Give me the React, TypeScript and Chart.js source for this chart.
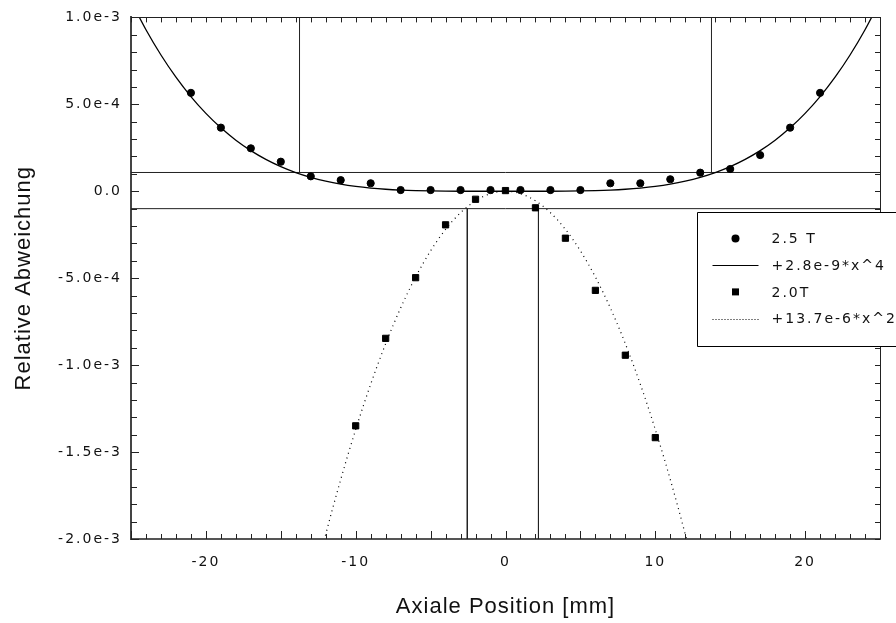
import React, { useEffect, useRef } from "react";
import { Chart, registerables } from "chart.js";

Chart.register(...registerables);

const FONT = '"Liberation Sans", Arial, Helvetica, sans-serif';
const SMALL_FONT = '"DejaVu Sans", "Liberation Sans", Arial, sans-serif';

// ---- axis ticks ----
const xTickValues = [-20, -10, 0, 10, 20];
const xTickLabels = ["-20", "-10", "0", "10", "20"];
const yTickValues = [-2.0e-3, -1.5e-3, -1.0e-3, -5.0e-4, 0, 5.0e-4, 1.0e-3];
const yTickLabels = ["-2.0e-3", "-1.5e-3", "-1.0e-3", "-5.0e-4", "0.0", "5.0e-4", "1.0e-3"];

// ---- measured series ----
const labels = ["2.5 T", "+2.8e-9*x^4", "2.0T", "+13.7e-6*x^2"];

const x25T = [-21, -19, -17, -15, -13, -11, -9, -7, -5, -3, -1, 1, 3, 5, 7, 9, 11, 13, 15, 17, 19, 21];
const y25T = [
  5.66e-4, 3.66e-4, 2.47e-4, 1.7e-4, 0.86e-4, 0.64e-4, 0.46e-4, 0.07e-4, 0.07e-4, 0.07e-4, 0.07e-4,
  0.07e-4, 0.07e-4, 0.07e-4, 0.46e-4, 0.46e-4, 0.69e-4, 1.07e-4, 1.28e-4, 2.08e-4, 3.66e-4, 5.66e-4,
];

const x20T = [-10, -8, -6, -4, -2, 0, 2, 4, 6, 8, 10];
const y20T = [-1.349e-3, -0.846e-3, -0.497e-3, -0.193e-3, -0.046e-3, 0.004e-3, -0.095e-3, -0.27e-3, -0.57e-3, -0.943e-3, -1.417e-3];

// ---- fitted curves ----
const fitX4x = [
  -25, -24, -23, -22, -21, -20, -19, -18, -17, -16, -15, -14, -13, -12, -11, -10, -9, -8, -7, -6, -5, -4, -3, -2, -1,
  0, 1, 2, 3, 4, 5, 6, 7, 8, 9, 10, 11, 12, 13, 14, 15, 16, 17, 18, 19, 20, 21, 22, 23, 24, 25,
];
const fitX4y = [
  1.0938e-3, 0.929e-3, 0.7836e-3, 0.656e-3, 0.5445e-3, 0.448e-3, 0.3649e-3, 0.2939e-3, 0.2339e-3, 0.1835e-3,
  0.1418e-3, 0.1076e-3, 0.08e-3, 0.0581e-3, 0.041e-3, 0.028e-3, 0.01837e-3, 0.01147e-3, 0.00672e-3, 0.00363e-3,
  0.00175e-3, 0.000717e-3, 0.000227e-3, 0.0000448e-3, 0.0000028e-3,
  0,
  0.0000028e-3, 0.0000448e-3, 0.000227e-3, 0.000717e-3, 0.00175e-3, 0.00363e-3, 0.00672e-3, 0.01147e-3,
  0.01837e-3, 0.028e-3, 0.041e-3, 0.0581e-3, 0.08e-3, 0.1076e-3, 0.1418e-3, 0.1835e-3, 0.2339e-3, 0.2939e-3,
  0.3649e-3, 0.448e-3, 0.5445e-3, 0.656e-3, 0.7836e-3, 0.929e-3, 1.0938e-3,
];

const fitX2x = [-13, -12, -11, -10, -9, -8, -7, -6, -5, -4, -3, -2, -1, 0, 1, 2, 3, 4, 5, 6, 7, 8, 9, 10, 11, 12, 13];
const fitX2y = [
  -2.3153e-3, -1.9728e-3, -1.6577e-3, -1.37e-3, -1.1097e-3, -0.8768e-3, -0.6713e-3, -0.4932e-3, -0.3425e-3,
  -0.2192e-3, -0.1233e-3, -0.0548e-3, -0.0137e-3, 0, -0.0137e-3, -0.0548e-3, -0.1233e-3, -0.2192e-3, -0.3425e-3,
  -0.4932e-3, -0.6713e-3, -0.8768e-3, -1.1097e-3, -1.37e-3, -1.6577e-3, -1.9728e-3, -2.3153e-3,
];

// ---- tolerance band and crossing markers ----
const xRange = [-25, 25];
const yRange = [-2.0e-3, 1.0e-3];
const toleranceLevels = [1.08e-4, -1.0e-4];
const upperCrossX = [-13.75, 13.75];
const lowerCrossX = [-2.55, 2.2];

const xMinorStep = 1;
const xMajorStep = 5;
const yMinorStep = 1e-4;
const yMajorStep = 5e-4;

const pts = (xs: number[], ys: number[]) => xs.map((x, i) => ({ x, y: ys[i] }));

function labelFor(value: number, values: number[], texts: string[]) {
  const i = values.findIndex((v) => Math.abs(v - value) < 1e-12);
  return i >= 0 ? texts[i] : "";
}

const framePlugin = {
  id: "frame",
  beforeDraw(chart: any) {
    chart.ctx.letterSpacing = "1px";
  },
  afterDatasetsDraw(chart: any) {
    chart.ctx.letterSpacing = "2px";
  },
  afterDraw(chart: any) {
    const ctx = chart.ctx as CanvasRenderingContext2D;
    const ca = chart.chartArea;
    const xs = chart.scales.x;
    const ys = chart.scales.y;
    ctx.save();
    ctx.strokeStyle = "#222";
    ctx.lineWidth = 1;
    ctx.setLineDash([]);
    ctx.beginPath();
    // top and right frame
    ctx.moveTo(ca.left, Math.round(ca.top) + 0.5);
    ctx.lineTo(ca.right + 1, Math.round(ca.top) + 0.5);
    ctx.moveTo(Math.round(ca.right) + 0.5, ca.top);
    ctx.lineTo(Math.round(ca.right) + 0.5, ca.bottom);
    // x ticks (inward)
    const nx = Math.round((xs.max - xs.min) / xMinorStep);
    for (let i = 0; i <= nx; i++) {
      const v = xs.min + i * xMinorStep;
      const px = Math.round(xs.getPixelForValue(v)) + 0.5;
      const r = v / xMajorStep;
      const major = Math.abs(r - Math.round(r)) < 1e-6;
      ctx.moveTo(px, ca.bottom);
      ctx.lineTo(px, ca.bottom - (major ? 8 : 5));
      ctx.moveTo(px, ca.top);
      ctx.lineTo(px, ca.top + 5);
    }
    const ny = Math.round((ys.max - ys.min) / yMinorStep);
    for (let i = 0; i <= ny; i++) {
      const v = ys.min + i * yMinorStep;
      const py = Math.round(ys.getPixelForValue(v)) + 0.5;
      const r = v / yMajorStep;
      const major = Math.abs(r - Math.round(r)) < 1e-6;
      ctx.moveTo(ca.left, py);
      ctx.lineTo(ca.left + (major ? 8 : 6), py);
      ctx.moveTo(ca.right, py);
      ctx.lineTo(ca.right - 5, py);
    }
    ctx.stroke();

    // legend box
    const left = Math.round(ca.right - 183) + 0.5;
    const top = Math.round(ca.top + 195) + 0.5;
    const boxW = chart.width - left + 10;
    const boxH = 134;
    ctx.fillStyle = "#fff";
    ctx.fillRect(left, top, boxW, boxH);
    ctx.strokeStyle = "#000";
    ctx.beginPath();
    ctx.rect(left, top, boxW, boxH);
    ctx.stroke();

    const items = chart.data.datasets.slice(0, 4);
    ctx.font = `14px ${SMALL_FONT}`;
    ctx.textBaseline = "middle";
    ctx.textAlign = "left";
    (ctx as any).letterSpacing = "2px";
    items.forEach((ds: any, i: number) => {
      const cy = top + 26 + i * 26.7;
      const cx = left + 38;
      ctx.fillStyle = "#000";
      ctx.strokeStyle = "#000";
      if (ds.showLine) {
        ctx.lineWidth = 1;
        ctx.setLineDash(ds.borderDash && ds.borderDash.length ? [1, 2] : []);
        ctx.beginPath();
        ctx.moveTo(left + 15, Math.round(cy) + 0.5);
        ctx.lineTo(left + 61, Math.round(cy) + 0.5);
        ctx.stroke();
        ctx.setLineDash([]);
      } else if (ds.pointStyle === "rect") {
        ctx.fillRect(cx - 3.5, cy - 3.5, 7, 7);
      } else {
        ctx.beginPath();
        ctx.arc(cx, cy, 4, 0, Math.PI * 2);
        ctx.fill();
      }
      ctx.fillStyle = "#111";
      ctx.fillText(ds.label, left + 74, cy + 1);
    });
    ctx.restore();
    (ctx as any).letterSpacing = "0px";
  },
};

export default function App() {
  const ref = useRef<HTMLCanvasElement>(null);

  useEffect(() => {
    document.body.style.margin = "0";
    const lineDs = (data: { x: number; y: number }[]) => ({
      label: "",
      data,
      showLine: true,
      borderColor: "#222",
      borderWidth: 1,
      pointRadius: 0,
    });

    const datasets: any[] = [
      {
        label: labels[0],
        data: pts(x25T, y25T),
        showLine: false,
        pointStyle: "circle",
        pointRadius: 3.6,
        pointBorderWidth: 1,
        backgroundColor: "#000",
        borderColor: "#000",
      },
      {
        label: labels[1],
        data: pts(fitX4x, fitX4y),
        showLine: true,
        borderColor: "#000",
        borderWidth: 1.3,
        pointRadius: 0,
        cubicInterpolationMode: "monotone",
      },
      {
        label: labels[2],
        data: pts(x20T, y20T),
        showLine: false,
        pointStyle: "rect",
        pointRadius: 4.4,
        pointBorderWidth: 1,
        backgroundColor: "#000",
        borderColor: "#000",
      },
      {
        label: labels[3],
        data: pts(fitX2x, fitX2y),
        showLine: true,
        borderColor: "#000",
        borderWidth: 1.2,
        borderDash: [1, 4],
        pointRadius: 0,
        cubicInterpolationMode: "monotone",
      },
      ...toleranceLevels.map((lv) => lineDs(xRange.map((x) => ({ x, y: lv })))),
      ...upperCrossX.map((x) => lineDs([{ x, y: toleranceLevels[0] }, { x, y: yRange[1] }])),
      ...lowerCrossX.map((x) => lineDs([{ x, y: toleranceLevels[1] }, { x, y: yRange[0] }])),
    ];

    const chart = new Chart(ref.current as HTMLCanvasElement, {
      type: "scatter",
      data: { datasets },
      plugins: [framePlugin],
      options: {
        animation: false,
        responsive: false,
        events: [],
        layout: { padding: { top: 13, right: 16, bottom: 0, left: 0 } },
        plugins: { legend: { display: false }, tooltip: { enabled: false } },
        scales: {
          x: {
            type: "linear",
            min: xRange[0],
            max: xRange[1],
            afterBuildTicks: (s: any) => {
              s.ticks = xTickValues.map((v) => ({ value: v }));
            },
            afterFit: (s: any) => {
              s.height = 84;
            },
            grid: { display: false, drawTicks: false },
            border: { display: true, color: "#555", width: 2 },
            ticks: {
              z: 1,
              autoSkip: false,
              maxRotation: 0,
              padding: 15,
              color: "#111",
              font: { family: SMALL_FONT, size: 14 },
              callback: (v: any) => labelFor(Number(v), xTickValues, xTickLabels),
            },
            title: {
              display: true,
              text: "Axiale Position [mm]",
              color: "#111",
              font: { family: FONT, size: 22 },
              padding: { top: 0, bottom: 3 },
            },
          },
          y: {
            type: "linear",
            min: yRange[0],
            max: yRange[1],
            afterBuildTicks: (s: any) => {
              s.ticks = yTickValues.map((v) => ({ value: v }));
            },
            afterFit: (s: any) => {
              s.width = 131;
            },
            grid: { display: false, drawTicks: false },
            border: { display: true, color: "#444", width: 2 },
            ticks: {
              z: 1,
              autoSkip: false,
              padding: 9,
              color: "#111",
              font: { family: SMALL_FONT, size: 14 },
              callback: (v: any) => labelFor(Number(v), yTickValues, yTickLabels),
            },
            title: {
              display: true,
              text: "Relative Abweichung",
              color: "#111",
              font: { family: FONT, size: 22 },
              padding: { top: 11, bottom: 0 },
            },
          },
        },
      } as any,
    });
    return () => chart.destroy();
  }, []);

  return (
    <div style={{ width: 896, height: 623 }}>
      <canvas ref={ref} width={896} height={623} style={{ display: "block" }} />
    </div>
  );
}
